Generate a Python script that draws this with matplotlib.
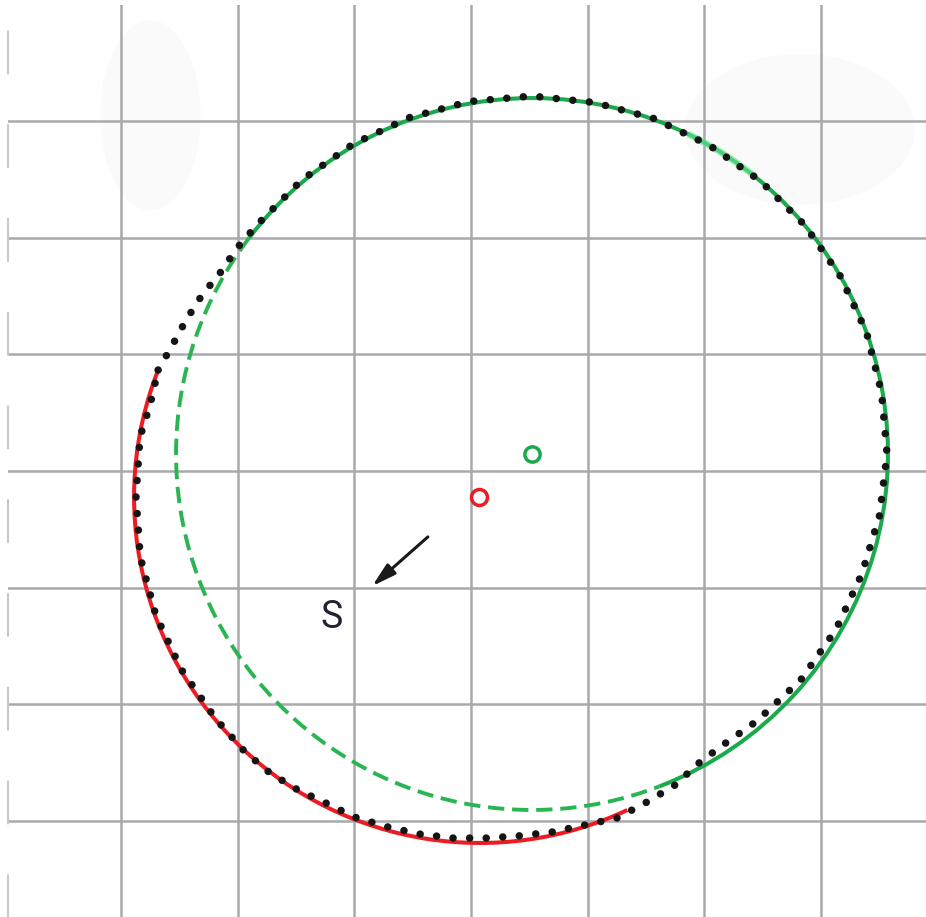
import matplotlib
matplotlib.use("Agg")
import matplotlib.pyplot as plt
from matplotlib.patches import Arc, Ellipse

# grid squares are 10 units, origin on the middle grid crossing
grid_ticks = [-30, -20, -10, 0, 10, 20, 30]
x_range = [-39.71, 39.02]
y_range = [-38.25, 39.97]

# fitted circles (centre x, centre y, radius)
green_center = [5.23, 1.46]
green_radius = 30.53
red_center = [0.77, -2.23]
red_radius = 29.67
red_marker = [0.69, -2.23]

# arc angles in degrees
green_solid = [-69, 142.6]
green_dashed = [142.6, 291]
green_glow = [51, 64]
red_solid = [158.5, 295.2]

# observed path (dotted)
path_x = [-26.84, -25.56, -24.44, -23.07, -21.53, -20.07, -18.28, -14.51, -10.12, -5.27,
          -0.10, 5.23, 10.56, 15.70, 20.50, 24.86, 28.62, 31.67, 33.92, 35.21,
          35.68, 35.04, 33.52, 31.30, 28.29, 24.48, 21.96, 19.64, 17.50, 15.09,
          12.52, 9.78, 6.95, 4.03, 1.29, -1.54, -4.46, -7.12, -10.03, -12.09,
          -14.84, -17.24, -19.38, -21.90, -24.85, -27.04, -28.37, -28.73, -28.39, -27.53,
          -26.84]
path_y = [8.66, 10.89, 12.95, 15.09, 16.98, 19.13, 21.19, 24.97, 28.04, 30.32,
          31.70, 32.16, 31.61, 30.23, 27.90, 24.85, 21.09, 16.72, 11.90, 6.74,
          1.46, -3.80, -8.83, -13.59, -17.90, -21.47, -23.24, -24.96, -26.93, -28.39,
          -29.76, -30.36, -30.96, -31.30, -31.48, -31.48, -31.13, -30.53, -29.67, -28.64,
          -27.36, -25.90, -24.10, -21.25, -17.02, -12.35, -7.38, -2.23, 2.92, 5.66,
          8.66]

arrow_start = [-3.52, -5.49]
arrow_end = [-8.66, -10.03]
label_pos = [-11.92, -12.55]

green = "#1aa94b"
green_dash = "#2bb552"
red = "#ec1c24"

fig = plt.figure(figsize=(9.26, 9.17), dpi=100)
ax = fig.add_axes([8 / 926, 0, 918 / 926, 912 / 917])
ax.set_xlim(x_range)
ax.set_ylim(y_range)
ax.set_aspect("equal")

# very faint smudges on the scanned paper
ax.add_patch(Ellipse((-27.5, 30.5), 8.6, 16.3, color="#fafafb", lw=0, zorder=0))
ax.add_patch(Ellipse((28.2, 29.3), 19.7, 12.9, color="#fafafb", lw=0, zorder=0))

ax.set_xticks(grid_ticks)
ax.set_yticks(grid_ticks)
ax.grid(True, color="#a9a9ad", lw=1.8)
ax.set_axisbelow(True)
ax.tick_params(length=0, labelbottom=False, labelleft=False)
for side in ["top", "right", "bottom"]:
    ax.spines[side].set_visible(False)
ax.spines["left"].set_color("#c8c8c8")
ax.spines["left"].set_linewidth(1.5)
ax.spines["left"].set_linestyle((0, (20, 25)))

# green orbit
ax.add_patch(Arc(green_center, 2 * green_radius, 2 * green_radius,
                 theta1=green_solid[0], theta2=green_solid[1],
                 color=green, lw=2.9, zorder=3))
ax.add_patch(Arc(green_center, 2 * green_radius, 2 * green_radius,
                 theta1=green_glow[0], theta2=green_glow[1],
                 color="#6ee89a", lw=5, alpha=0.6, zorder=3))
ax.add_patch(Arc(green_center, 2 * green_radius, 2 * green_radius,
                 theta1=green_dashed[0], theta2=green_dashed[1],
                 color=green_dash, lw=2.8, ls=(0, (4.2, 2.0)), zorder=3))

# red orbit
ax.add_patch(Arc(red_center, 2 * red_radius, 2 * red_radius,
                 theta1=red_solid[0], theta2=red_solid[1],
                 color=red, lw=2.9, zorder=3))

# dotted path
ax.plot(path_x, path_y, color="#151515", lw=5.4, ls=(0, (0.01, 2.2)),
        dash_capstyle="round", zorder=4)

# centres
ax.plot(*green_center, "o", ms=11, mfc="none", mec=green, mew=2.5, zorder=5)
ax.plot(*red_marker, "o", ms=11.5, mfc="none", mec=red, mew=2.5, zorder=5)

# arrow and label
ax.annotate("", xy=arrow_end, xytext=arrow_start,
            arrowprops=dict(arrowstyle="-|>,head_length=0.9,head_width=0.25",
                            color="#1a1a1a", lw=2.2, mutation_scale=16))
ax.text(label_pos[0], label_pos[1], "S", fontsize=27, family="Roboto",
        color="#222233", ha="center", va="center")

plt.savefig("out.png", dpi=100)
